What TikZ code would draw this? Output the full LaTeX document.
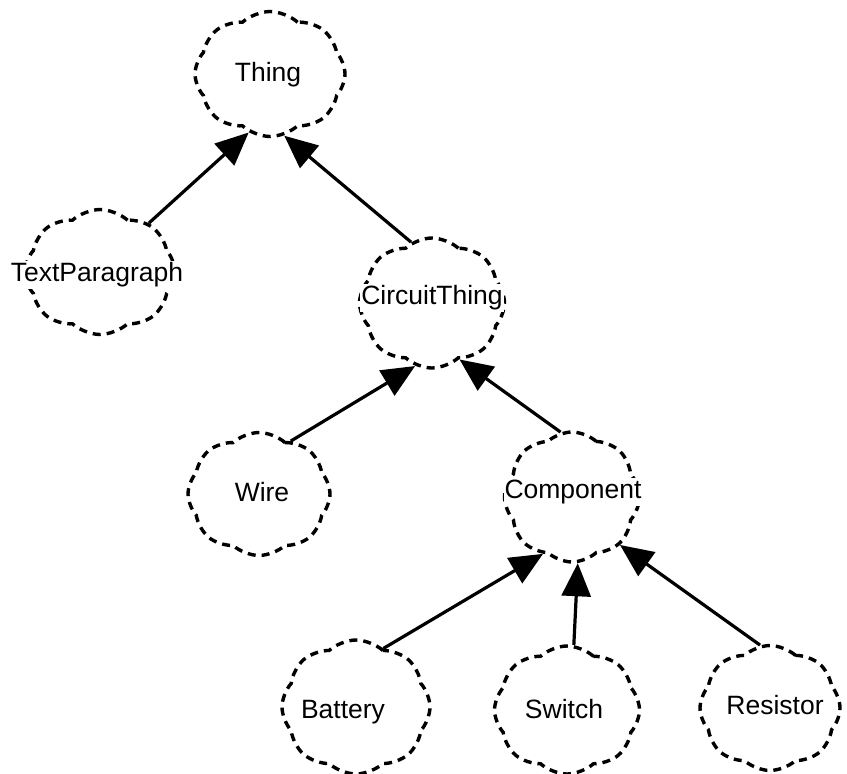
\documentclass[tikz,border=0pt]{standalone}
\usepackage{fontspec}
\setmainfont{Liberation Sans}
\usetikzlibrary{shapes.symbols,arrows.meta}
\begin{document}
\begin{tikzpicture}[x=1pt,y=-1pt,
  cloudbox/.style={shape=cloud, draw=black, line width=3.4pt, dash pattern=on 8pt off 6pt,
    cloud puffs=8, cloud puff arc=85, cloud ignores aspect, inner sep=0pt},
  lbl/.style={font=\fontsize{26.5}{31}\selectfont, fill=white, inner xsep=1pt, inner ysep=2pt},
  isa/.style={line width=3.2pt, -{Triangle[length=33pt,width=29pt]}}]
\useasboundingbox (0,0) rectangle (847,774);
\node[cloudbox, minimum width=150pt, minimum height=125pt] (thing) at (270,74) {};
\node[cloudbox, minimum width=150pt, minimum height=125pt] (tp) at (100,272) {};
\node[cloudbox, minimum width=145pt, minimum height=130pt] (ct) at (432,303) {};
\node[cloudbox, minimum width=142pt, minimum height=123pt] (wire) at (259,494) {};
\node[cloudbox, minimum width=135pt, minimum height=130pt] (comp) at (572,497) {};
\node[cloudbox, minimum width=148pt, minimum height=134pt] (bat) at (356,707) {};
\node[cloudbox, minimum width=145pt, minimum height=128pt] (sw) at (567,710) {};
\node[cloudbox, minimum width=140pt, minimum height=125pt] (res) at (770,708) {};
\node[lbl] (thingt) at (268,75) {Thing};
\node[lbl] (tpt) at (97,275) {TextParagraph};
\node[lbl] (ctt) at (432,298) {CircuitThing};
\node[lbl] (wiret) at (262,492) {Wire};
\node[lbl] (compt) at (573,492) {Component};
\node[lbl] (batt) at (343,712) {Battery};
\node[lbl] (swt) at (564,709) {Switch};
\node[lbl] (rest) at (775,705) {Resistor};
\draw[isa] (tp.45) -- (thing.250);
\draw[isa] (ct.109) -- (thing.283);
\draw[isa] (wire.59) -- (ct.255);
\draw[isa] (comp.100) -- (ct.296);
\draw[isa] (bat.65) -- (comp.243);
\draw[isa] (sw.84) -- (comp.275);
\draw[isa] (res.99) -- (comp.315);
\end{tikzpicture}
\end{document}
